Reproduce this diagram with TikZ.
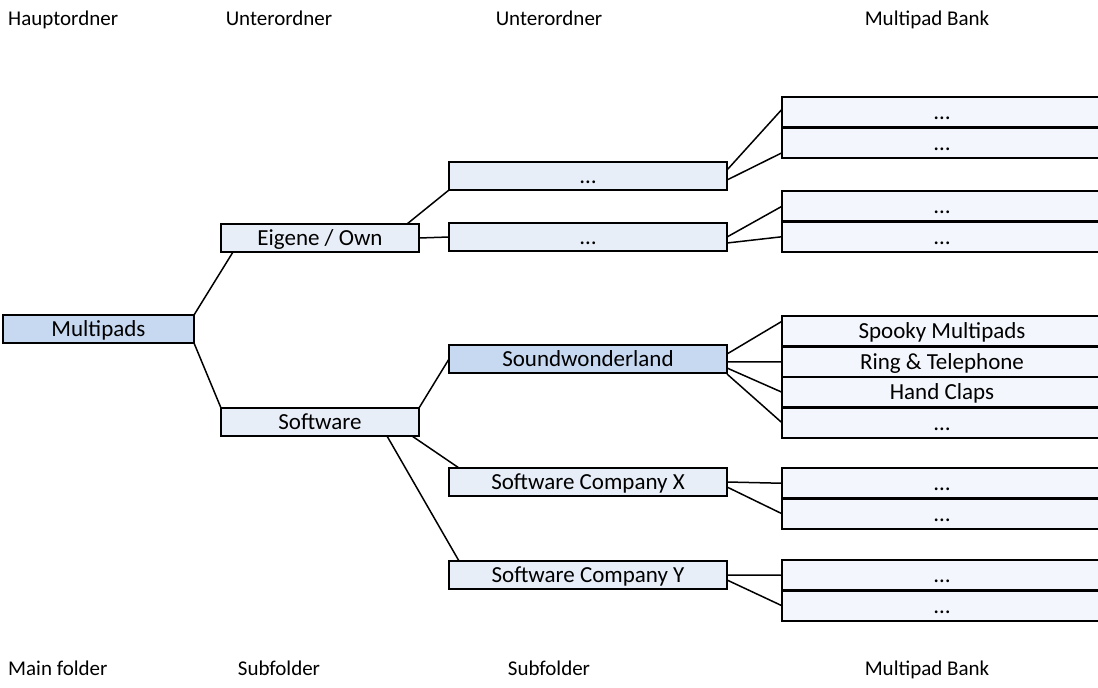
\documentclass[tikz,border=0pt]{standalone}
\usepackage{fontspec}
\setmainfont{Carlito}
\usetikzlibrary{positioning}
\definecolor{folderblue}{RGB}{198, 217, 241}
\definecolor{subblue}{RGB}{231, 238, 248}
\definecolor{bankblue}{RGB}{243, 246, 252}

\begin{document}
\begin{tikzpicture}[
      x=1pt, y=-1pt,
      node distance=0pt,
      folder/.style={
        draw=black, line width=2.8pt, fill=subblue,
        font=\fontsize{23}{27}\selectfont,
        text height=14.8pt, text depth=0pt,
        minimum height=28pt, inner sep=0pt, outer sep=0pt, anchor=north west
      },
      mainbox/.style={folder, fill=folderblue, minimum width=191pt},
      subbox/.style={folder, minimum width=198pt},
      subsubbox/.style={folder, minimum width=278pt},
      bankbox/.style={folder, fill=bankblue, minimum width=320pt, minimum height=30.5pt},
      link/.style={line width=1.5pt},
      caption/.style={anchor=base, inner sep=0pt, font=\fontsize{21}{25}\selectfont}
    ]
      \useasboundingbox (0,0) rectangle (1098,688);

      % column captions
      \node[caption, anchor=base west] (h1) at (8,25) {Hauptordner};
      \node[caption] (h2) at (279,25) {Unterordner};
      \node[caption] (h3) at (549,25) {Unterordner};
      \node[caption] (h4) at (927,25) {Multipad Bank};
      \node[caption, anchor=base west] (f1) at (8,675) {Main folder};
      \node[caption] (f2) at (279,675) {Subfolder};
      \node[caption] (f3) at (549,675) {Subfolder};
      \node[caption] (f4) at (927,675) {Multipad Bank};

      % folders
      \node[mainbox] (mp) at (3,315) {Multipads};
      \node[subbox] (own) at (221,224) {Eigene / Own};
      \node[subbox] (sw) at (221,408) {Software};
      \node[subsubbox] (oa) at (449,162) {…};
      \node[subsubbox] (ob) at (449,223) {…};
      \node[subsubbox, fill=folderblue] (snd) at (449,345) {Soundwonderland};
      \node[subsubbox] (cx) at (449,468) {Software Company X};
      \node[subsubbox] (cy) at (449,561) {Software Company Y};

      % multipad banks
      \node[bankbox] (a1) at (782,97) {…};
      \node[bankbox, below=of a1] (a2) {…};
      \node[bankbox] (b1) at (782,191) {…};
      \node[bankbox, below=of b1] (b2) {…};
      \node[bankbox] (s1) at (782,316) {Spooky Multipads};
      \node[bankbox, below=of s1] (s2) {Ring \& Telephone};
      \node[bankbox, below=of s2] (s3) {Hand Claps};
      \node[bankbox, below=of s3] (s4) {…};
      \node[bankbox] (x1) at (782,468) {…};
      \node[bankbox, below=of x1] (x2) {…};
      \node[bankbox] (y1) at (782,560) {…};
      \node[bankbox, below=of y1] (y2) {…};

      % connectors
      \draw[link] (mp.north east) -- ([xshift=12pt]own.south west);
      \draw[link] (mp.south east) -- (sw.north west);
      \draw[link] ([xshift=-12pt]own.north east) -- (oa.south west);
      \draw[link] (own.east) -- (ob.west);
      \draw[link] (sw.north east) -- (snd.west);
      \draw[link] ([xshift=-7pt]sw.south east) -- ([xshift=10pt]cx.north west);
      \draw[link] ([xshift=-32pt]sw.south east) -- ([xshift=10pt]cy.north west);

      \draw[link] ([yshift=-8pt]oa.north east) -- ([yshift=3pt]a1.west);
      \draw[link] ([yshift=-18pt]oa.north east) -- ([yshift=-10pt]a2.west);
      \draw[link] (ob.east) -- (b1.west);
      \draw[link] ([yshift=-6pt]ob.east) -- (b2.west);
      \draw[link] ([yshift=5pt]snd.east) -- ([yshift=10pt]s1.west);
      \draw[link] ([yshift=-3pt]snd.east) -- (s2.west);
      \draw[link] ([yshift=-9pt]snd.east) -- (s3.west);
      \draw[link] ([yshift=-15pt]snd.east) -- (s4.west);
      \draw[link] (cx.east) -- (x1.west);
      \draw[link] ([yshift=-5pt]cx.east) -- (x2.west);
      \draw[link] (cy.east) -- (y1.west);
      \draw[link] ([yshift=-5pt]cy.east) -- (y2.west);
    \end{tikzpicture}
\end{document}
